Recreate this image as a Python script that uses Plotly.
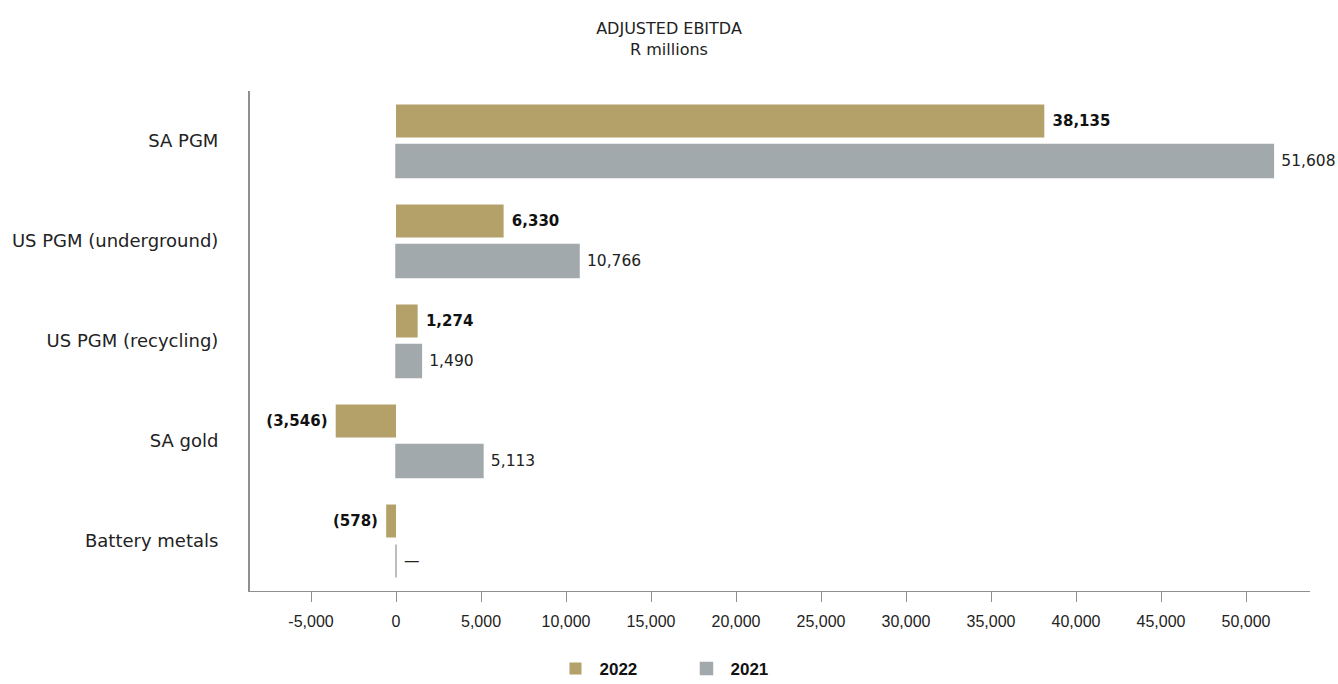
import plotly.graph_objects as go

categories = ["SA PGM", "US PGM (underground)", "US PGM (recycling)", "SA gold", "Battery metals"]
values_2022 = [38135, 6330, 1274, -3546, -578]
values_2021 = [51608, 10766, 1490, 5113, 0]
tick_vals = [-5000, 0, 5000, 10000, 15000, 20000, 25000, 30000, 35000, 40000, 45000, 50000]
tick_text = ["-5,000", "0", "5,000", "10,000", "15,000", "20,000", "25,000",
             "30,000", "35,000", "40,000", "45,000", "50,000"]


def fmt(v):
    if v == 0:
        return " \u2014"
    if v < 0:
        return "({:,}) ".format(-v)
    return " {:,}".format(v)


GOLD = "#B4A069"
GREY = "#A2A9AC"
FONT = "DejaVu Sans"

fig = go.Figure()
fig.add_trace(go.Bar(
    name="2022", y=categories, x=values_2022, orientation="h",
    marker=dict(color=GOLD, line=dict(width=0)),
    text=["<b>" + fmt(v) + "</b>" for v in values_2022],
    textposition="outside", cliponaxis=False,
    textfont=dict(family=FONT, size=15, color="#111111"),
))
fig.add_trace(go.Bar(
    name="2021", y=categories, x=values_2021, orientation="h",
    marker=dict(color=GREY, line=dict(width=1.5, color=GREY)),
    text=[fmt(v) for v in values_2021],
    textposition="outside", cliponaxis=False,
    textfont=dict(family=FONT, size=15.5, color="#222222"),
))

fig.update_layout(
    width=1338, height=684,
    paper_bgcolor="white", plot_bgcolor="white",
    barmode="group", bargap=0.2, bargroupgap=0.175,
    margin=dict(l=250, r=28, t=91, b=93, autoexpand=False),
    font=dict(family=FONT, size=14, color="#222222"),
    title=dict(
        text="ADJUSTED EBITDA<br>R millions",
        x=0.5, xanchor="center", xref="container",
        y=1 - 34 / 684, yref="container", yanchor="top",
        font=dict(family=FONT, size=16, color="#222222"),
    ),
    showlegend=True,
    legend=dict(
        orientation="h", x=0.408, xanchor="center",
        y=1 - 669 / 684, yref="container", yanchor="middle",
        font=dict(family="Liberation Sans", size=17, color="#111111", weight="bold"),
        itemwidth=38, entrywidth=78,
    ),
)
fig.update_xaxes(
    range=[-8588, 53765], tickvals=tick_vals, ticktext=tick_text,
    showgrid=False, zeroline=False, automargin=False,
    showline=True, linecolor="#8f8f8f", linewidth=1,
    ticks="outside", ticklen=10, tickcolor="#8f8f8f",
    ticklabelstandoff=6,
    tickfont=dict(family="Liberation Sans", size=16, color="#222222"),
)
fig.update_yaxes(
    autorange="reversed", showgrid=False, zeroline=False, automargin=False,
    showline=True, linecolor="#8f8f8f", linewidth=2,
    ticks="", ticklabelstandoff=26,
    tickfont=dict(family=FONT, size=18, color="#222222"),
)

fig.write_html("out.html", config={"displayModeBar": False},
               post_script="document.body.style.margin='0';")
